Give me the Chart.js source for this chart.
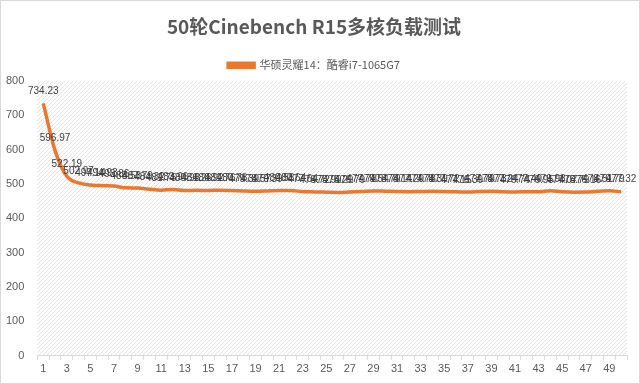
<!DOCTYPE html>
<html>
<head>
<meta charset="utf-8">
<script src="https://cdn.jsdelivr.net/npm/chart.js@4.4.1/dist/chart.umd.min.js"></script>
<style>
    html, body { margin: 0; padding: 0; background: #fff; }
    #wrap { width: 638px; height: 382px; border: 1px solid #d9d9d9; }
</style>
</head>
<body>
<div id="wrap"><canvas id="cbChart" width="638" height="382"></canvas></div>
<script>
// rounds 1..50
const rounds = ["1","2","3","4","5","6","7","8","9","10","11","12","13","14","15","16","17","18","19","20",
    "21","22","23","24","25","26","27","28","29","30","31","32","33","34","35","36","37","38","39","40",
    "41","42","43","44","45","46","47","48","49","50"];

// Cinebench R15 multi-core scores
const scores = [734.23, 596.97, 522.19, 502.97, 497.14, 494.93, 493.86, 488.53, 487.79, 484.32,
    481.75, 483.96, 480.98, 481.26, 480.92, 481.76, 480.78, 479.39, 478.57, 479.39,
    480.58, 480.64, 477.64, 476.72, 475.99, 475.29, 476.79, 477.78, 479.54, 478.79,
    478.14, 477.29, 477.78, 478.39, 477.72, 477.15, 476.39, 477.79, 478.73, 477.24,
    476.74, 477.49, 476.95, 479.98, 477.07, 475.79, 476.16, 478.51, 479.79, 477.32];

const yTicks = [0, 100, 200, 300, 400, 500, 600, 700, 800];

const seriesName = "华硕灵耀14：酷睿i7-1065G7";
const lineColor = "#E8792F";

// diagonal hatch behind the plot
function makeHatch(ctx) {
    const c = document.createElement("canvas");
    c.width = 4; c.height = 4;
    const p = c.getContext("2d");
    p.fillStyle = "#ffffff";
    p.fillRect(0, 0, 4, 4);
    p.strokeStyle = "#e4e4e4";
    p.lineWidth = 1;
    p.beginPath();
    p.moveTo(0, 4); p.lineTo(4, 0);
    p.moveTo(-1, 1); p.lineTo(1, -1);
    p.moveTo(3, 5); p.lineTo(5, 3);
    p.stroke();
    return ctx.createPattern(c, "repeat");
}

const hatchPlugin = {
    id: "hatch",
    beforeDraw(chart) {
        const a = chart.chartArea;
        const ctx = chart.ctx;
        ctx.save();
        ctx.fillStyle = makeHatch(ctx);
        ctx.fillRect(a.left, a.top, a.right - a.left, a.bottom - a.top);
        ctx.restore();
    }
};

// value labels above each point
const labelPlugin = {
    id: "valueLabels",
    afterDatasetsDraw(chart) {
        const ctx = chart.ctx;
        const meta = chart.getDatasetMeta(0);
        ctx.save();
        ctx.font = "10px 'Liberation Sans', sans-serif";
        ctx.fillStyle = "#404040";
        ctx.textAlign = "center";
        ctx.textBaseline = "bottom";
        meta.data.forEach((pt, i) => {
            ctx.fillText(scores[i].toFixed(2), pt.x, pt.y - 7);
        });
        ctx.restore();
    }
};

new Chart(document.getElementById("cbChart"), {
    type: "line",
    data: {
        labels: rounds,
        datasets: [{
            label: seriesName,
            data: scores,
            borderColor: lineColor,
            backgroundColor: lineColor,
            borderWidth: 3.5,
            pointRadius: 0,
            tension: 0.4,
            cubicInterpolationMode: "monotone"
        }]
    },
    options: {
        responsive: false,
        animation: false,
        layout: { padding: { left: 0, right: 12, top: 4, bottom: 4 } },
        plugins: {
            title: {
                display: true,
                text: "50轮Cinebench R15多核负载测试",
                color: "#595959",
                font: { family: "'Noto Sans CJK SC', sans-serif", size: 19, weight: "bold" },
                padding: { top: 10, bottom: 8 }
            },
            legend: {
                display: true,
                labels: {
                    color: "#595959",
                    font: { family: "'Noto Sans CJK SC', sans-serif", size: 11 },
                    boxWidth: 26,
                    boxHeight: 4,
                    padding: 14
                }
            },
            tooltip: { enabled: false }
        },
        scales: {
            x: {
                offset: true,
                grid: {
                    display: true,
                    drawOnChartArea: false,
                    color: "#d9d9d9",
                    tickLength: 4,
                    offset: true
                },
                border: { color: "#d9d9d9" },
                ticks: {
                    autoSkip: false,
                    maxRotation: 0,
                    color: "#595959",
                    font: { family: "'Liberation Sans', sans-serif", size: 11 },
                    callback: (v, i) => (i % 2 === 0 ? rounds[i] : "")
                }
            },
            y: {
                min: yTicks[0],
                max: yTicks[yTicks.length - 1],
                afterBuildTicks: axis => { axis.ticks = yTicks.map(v => ({ value: v })); },
                grid: { display: false },
                border: { display: false },
                ticks: {
                    color: "#595959",
                    font: { family: "'Liberation Sans', sans-serif", size: 11 },
                    padding: 5
                }
            }
        }
    },
    plugins: [hatchPlugin, labelPlugin]
});
</script>
</body>
</html>
